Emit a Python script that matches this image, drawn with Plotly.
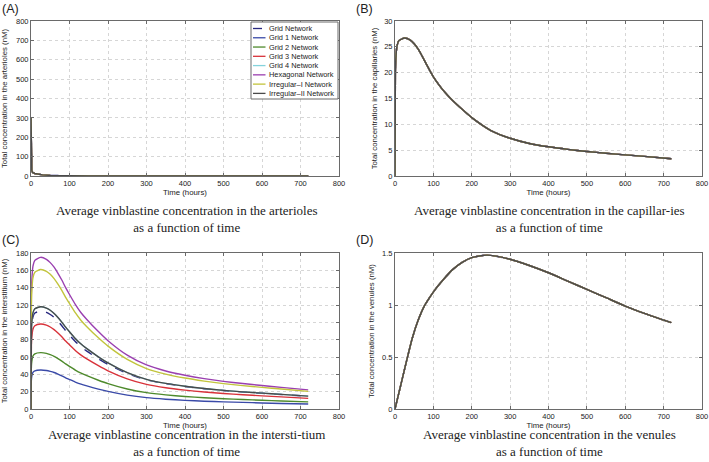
import plotly.graph_objects as go

# ---------------- data ----------------
networks = ["Grid Network", "Grid 1 Network", "Grid 2 Network", "Grid 3 Network",
            "Grid 4 Network", "Hexagonal Network", "Irregular\u2013I Network", "Irregular\u2013II Network"]

# (A) arterioles - all networks overlap
time_art = [0, 0.5, 1, 2, 3, 5, 10, 20, 30, 50, 75, 100, 150, 200, 300, 400, 500, 600, 720]
art = [300, 120, 60, 30, 22, 17, 13, 9, 6, 3, 1.5, 0.8, 0.3, 0.15, 0.08, 0.05, 0.04, 0.03, 0.02]

# (B) capillaries - all networks overlap
time_cap = [0, 1, 2, 5, 10, 25, 40, 50, 60, 70, 80, 90, 100, 115, 130, 145, 175, 200,
            250, 300, 350, 400, 450, 500, 550, 600, 650, 720]
cap = [0, 20.0, 22.4, 25.1, 26.2, 26.7, 26.3, 25.6, 24.6, 23.3, 21.9, 20.5, 19.2, 17.6, 16.2, 15.0, 12.9, 11.3,
       8.8, 7.3, 6.3, 5.65, 5.15, 4.75, 4.4, 4.08, 3.8, 3.35]

# (C) interstitium - one series per network
time_int = [0, 1, 2, 5, 10, 25, 40, 50, 60, 70, 80, 90, 100, 115, 130, 145, 175, 200,
            250, 300, 350, 400, 450, 500, 550, 600, 650, 720]
int_grid = [0, 84.8, 94.9, 106.2, 110.7, 113, 111.5, 109, 105.7, 101.1, 96.1, 90.4, 85.3, 78.0, 71.8, 66.8, 58, 51.5,
            41, 33.7, 29.2, 26, 23.4, 21.3, 19.6, 18.1, 16.7, 14.7]
int_grid1 = [0, 33.8, 37.8, 42.3, 44.1, 45, 44.4, 43.4, 42.1, 40.3, 38.3, 36, 34, 31.1, 28.6, 26.6, 23, 20.3,
             16, 13.1, 11.3, 10, 9, 8.2, 7.6, 7, 6.4, 5.7]
int_grid2 = [0, 48.8, 54.6, 61.1, 63.7, 65, 64.2, 62.7, 60.8, 58.2, 55.3, 52, 49.1, 44.9, 41.3, 38.4, 33.2, 29.3,
             23.1, 18.9, 16.3, 14.4, 13, 11.8, 10.9, 10.1, 9.3, 8.2]
int_grid3 = [0, 73.5, 82.3, 92.1, 96, 98, 96.7, 94.6, 91.6, 87.7, 83.3, 78.4, 74, 67.6, 62.2, 57.8, 50, 44.1,
             34.8, 28.4, 24.5, 21.8, 19.6, 17.8, 16.5, 15.2, 14, 12.3]
int_grid4 = [0, 88.5, 99.1, 110.9, 115.6, 118, 116.5, 113.9, 110.3, 105.6, 100.3, 94.4, 89.1, 81.4, 74.9, 69.6, 60.2, 53.1,
             41.9, 34.2, 29.5, 26.2, 23.6, 21.5, 19.8, 18.3, 16.9, 14.9]
int_hex = [0, 131.3, 147, 164.5, 171.5, 175, 172.7, 168.9, 163.6, 156.6, 148.8, 140, 132.1, 120.8, 111.1, 103.3, 89.3, 78.8,
           62.1, 50.8, 43.8, 38.9, 35, 31.9, 29.4, 27.1, 25, 22.1]
int_irr1 = [0, 120.8, 135.2, 151.3, 157.8, 161, 158.9, 155.4, 150.5, 144.1, 136.9, 128.8, 121.6, 111.1, 102.2, 95, 82.1, 72.5,
            57.2, 46.7, 40.3, 35.7, 32.2, 29.3, 27, 25, 23, 20.3]
int_irr2 = [0, 88.5, 99.1, 110.9, 115.6, 118, 116.5, 113.9, 110.3, 105.6, 100.3, 94.4, 89.1, 81.4, 74.9, 69.6, 60.2, 53.1,
            41.9, 34.2, 29.5, 26.2, 23.6, 21.5, 19.8, 18.3, 16.9, 14.9]
interstitium = [int_grid, int_grid1, int_grid2, int_grid3, int_grid4, int_hex, int_irr1, int_irr2]

# (D) venules - all networks overlap
time_ven = [0, 15, 30, 45, 60, 75, 90, 105, 125, 150, 175, 200, 240, 300, 350, 400, 450, 500, 550, 600, 650, 720]
ven = [0, 0.23, 0.46, 0.68, 0.85, 0.98, 1.07, 1.15, 1.24, 1.34, 1.41, 1.455, 1.48, 1.44, 1.38, 1.31, 1.23, 1.15,
       1.07, 0.99, 0.92, 0.83]

x_ticks = [0, 100, 200, 300, 400, 500, 600, 700, 800]
y_ticks_art = [0, 100, 200, 300, 400, 500, 600, 700, 800]
y_ticks_cap = [0, 5, 10, 15, 20, 25, 30]
y_ticks_int = [0, 20, 40, 60, 80, 100, 120, 140, 160, 180]
y_ticks_ven = [0, 0.5, 1, 1.5]
y_tick_text_ven = ["0", "0.5", "1", "1.5"]

# ---------------- styles ----------------
colors = ["#27277f", "#3a4aa8", "#4e8a2c", "#d8323a", "#84d3dc", "#9a3fb0", "#c2c43c", "#4a4a4a"]
dashes = ["dash", "solid", "solid", "solid", "solid", "solid", "solid", "solid"]

W, H = 709, 462
def px(x): return x / W
def py(y): return 1 - y / H

fig = go.Figure()

panels = [
    dict(ax="", t=time_art, ys=[art] * 8, shape="linear"),
    dict(ax="2", t=time_cap, ys=[cap] * 8, shape="spline"),
    dict(ax="3", t=time_int, ys=interstitium, shape="spline"),
    dict(ax="4", t=time_ven, ys=[ven] * 8, shape="spline"),
]
for p in panels:
    for i, name in enumerate(networks):
        fig.add_trace(go.Scatter(
            x=p["t"], y=p["ys"][i], mode="lines", name=name, showlegend=False,
            line=dict(color=colors[i], width=1.4, dash=dashes[i], shape=p["shape"],
                      smoothing=0.6 if p["shape"] == "spline" else None),
            xaxis="x" + p["ax"], yaxis="y" + p["ax"]))

axis_common = dict(showgrid=True, gridcolor="#d6d6d6", griddash="dot", gridwidth=0.7,
                   showline=True, linecolor="#6a6a6a", linewidth=1, mirror="ticks",
                   ticks="inside", ticklen=3, tickcolor="#6a6a6a", zeroline=False,
                   tickfont=dict(family="Liberation Sans, Arial", size=7.5, color="#222"),
                   automargin=False)
title_font = dict(family="Liberation Sans, Arial", size=7.8, color="#222")

xdom_left = [px(31), px(339)]
xdom_right = [px(395), px(702)]
ydom_top = [py(176), py(21)]
ydom_bot = [py(409), py(253)]

layout = dict(
    width=W, height=H, margin=dict(l=0, r=0, t=0, b=0),
    paper_bgcolor="white", plot_bgcolor="white", showlegend=False,
)
specs = [
    ("", xdom_left, ydom_top, [0, 800], y_ticks_art, None, "Total concentration in the arterioles (nM)", 9),
    ("2", xdom_right, ydom_top, [0, 30], y_ticks_cap, None, "Total concentration in the capillaries (nM)", 5),
    ("3", xdom_left, ydom_bot, [0, 180], y_ticks_int, None, "Total concentration in the interstitium (nM)", 8),
    ("4", xdom_right, ydom_bot, [0, 1.5], y_ticks_ven, y_tick_text_ven, "Total concentration in the venules (nM)", 6),
]
for ax, xd, yd, yr, yt, ytt, ytitle, sto in specs:
    layout["xaxis" + ax] = dict(axis_common, domain=xd, range=[0, 800], tickvals=x_ticks,
                                anchor="y" + ax,
                                title=dict(text="Time (hours)", font=title_font, standoff=1))
    yax = dict(axis_common, domain=yd, range=yr, tickvals=yt, anchor="x" + ax,
               title=dict(text=ytitle, font=title_font, standoff=sto))
    if ytt:
        yax["ticktext"] = ytt
    layout["yaxis" + ax] = yax
fig.update_layout(**layout)

# panel labels
for lab, x, y in [("(A)", 0, 0), ("(B)", 354, 0), ("(C)", 0, 231), ("(D)", 354, 231)]:
    fig.add_annotation(text=lab, x=px(x), y=py(y), xref="paper", yref="paper",
                       xanchor="left", yanchor="top", showarrow=False,
                       font=dict(family="Liberation Sans, Arial", size=12.5, color="#222"))

# captions (two lines each)
captions = [
    ("Average vinblastine concentration in the arterioles", 186, 219),
    ("Average vinblastine concentration in the capillar-ies", 549, 219),
    ("Average vinblastine concentration in the intersti-tium", 186, 443),
    ("Average vinblastine concentration in the venules", 549, 443),
]
cap_font = dict(family="Liberation Serif, DejaVu Serif", size=13, color="#222")
for txt, cx, cy in captions:
    fig.add_annotation(text=txt + "<br>as a function of time", x=px(cx), y=py(cy), xref="paper", yref="paper",
                       xanchor="center", yanchor="middle", showarrow=False, align="center", font=cap_font)

# legend drawn inside panel A
lx0, lx1, ly0, ly1 = 251, 338, 22, 99
fig.add_shape(type="rect", xref="paper", yref="paper", x0=px(lx0), x1=px(lx1), y0=py(ly1), y1=py(ly0),
              line=dict(color="#6a6a6a", width=1), fillcolor="white", layer="above")
for i, name in enumerate(networks):
    yy = 28.5 + 9.27 * i
    fig.add_shape(type="line", xref="paper", yref="paper", x0=px(253), x1=px(265.5),
                  y0=py(yy), y1=py(yy), layer="above",
                  line=dict(color=colors[i], width=1.3, dash="dash" if dashes[i] == "dash" else "solid"))
    fig.add_annotation(text=name, x=px(266.5), y=py(yy), xref="paper", yref="paper",
                       xanchor="left", yanchor="middle", showarrow=False,
                       font=dict(family="Liberation Sans, Arial", size=7.4, color="#222"))

fig.write_html("out.html", config={"displayModeBar": False},
               post_script="document.body.style.margin='0';document.body.style.padding='0';")
